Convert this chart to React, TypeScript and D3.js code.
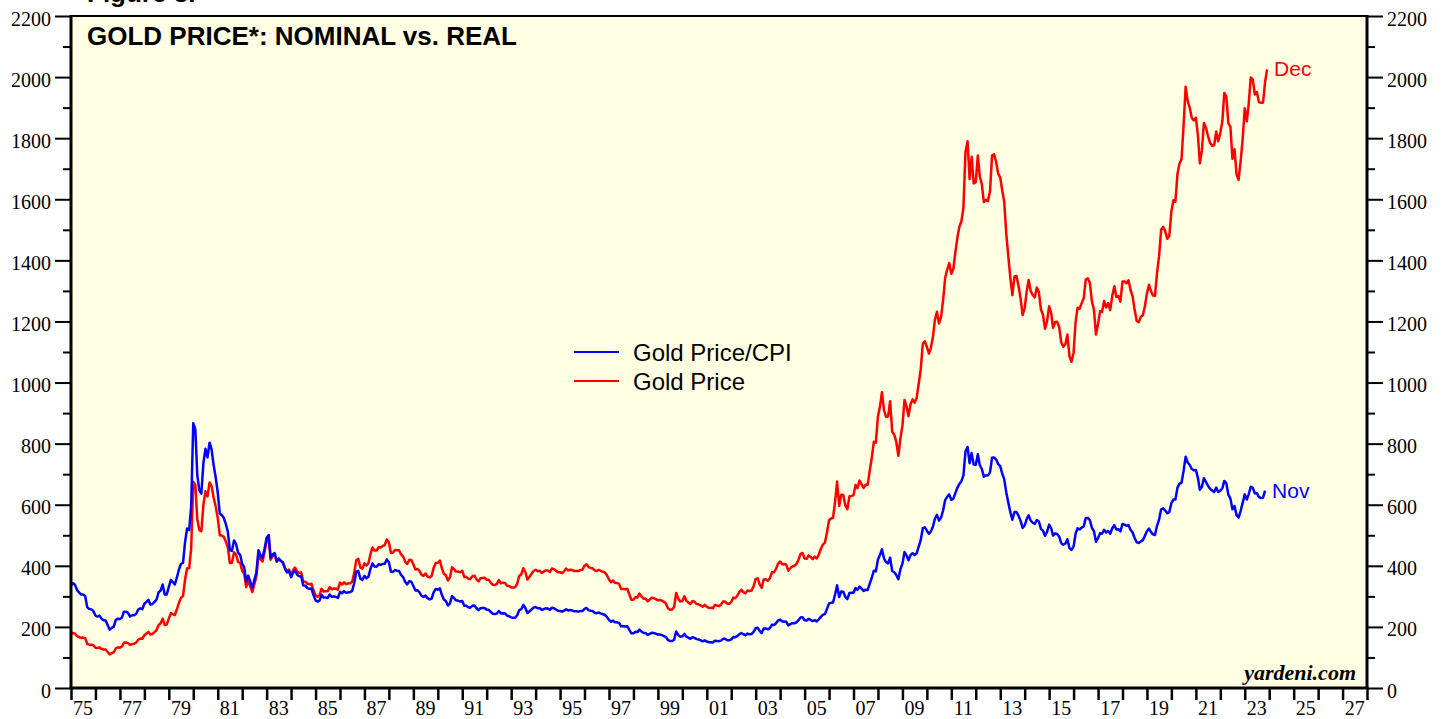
import React, { useEffect, useRef } from 'react';
import * as d3 from 'd3';

// monthly, Jan 1975 .. Dec 2023 (US$/oz)
const goldPrice: number[] = [
  175, 180, 178, 170, 167, 164, 165, 163, 144, 142, 142, 140,
  132, 131, 133, 128, 126, 126, 118, 110, 114, 117, 130, 133,
  132, 136, 148, 149, 147, 141, 144, 145, 149, 158, 162, 161,
  173, 178, 184, 175, 177, 183, 189, 206, 212, 227, 206, 208,
  227, 245, 242, 239, 257, 279, 295, 301, 355, 392, 392, 456,
  675, 665, 553, 517, 513, 600, 644, 627, 673, 661, 623, 595,
  557, 500, 499, 495, 480, 460, 409, 410, 444, 437, 413, 410,
  384, 374, 330, 350, 333, 314, 339, 365, 436, 422, 414, 445,
  481, 492, 420, 432, 438, 413, 423, 416, 412, 394, 382, 388,
  370, 386, 394, 381, 377, 378, 348, 348, 341, 340, 341, 320,
  303, 299, 304, 325, 316, 317, 317, 330, 323, 326, 325, 322,
  345, 339, 346, 340, 342, 343, 348, 376, 418, 423, 395, 391,
  408, 401, 408, 438, 460, 450, 450, 461, 460, 465, 468, 486,
  477, 442, 443, 452, 451, 451, 437, 431, 413, 406, 420, 419,
  404, 388, 390, 384, 371, 367, 375, 365, 362, 367, 394, 409,
  410, 417, 393, 374, 369, 352, 362, 395, 389, 381, 381, 379,
  384, 363, 364, 358, 357, 366, 368, 356, 349, 359, 360, 361,
  354, 354, 345, 338, 337, 341, 353, 343, 345, 344, 335, 334,
  329, 329, 330, 342, 367, 372, 392, 379, 355, 364, 374, 383,
  387, 382, 384, 377, 381, 385, 385, 380, 391, 389, 384, 379,
  379, 376, 382, 391, 385, 387, 386, 383, 383, 383, 386, 387,
  400, 405, 396, 393, 392, 385, 383, 387, 383, 381, 378, 369,
  355, 346, 352, 344, 344, 341, 324, 324, 323, 325, 306, 289,
  289, 297, 296, 309, 300, 292, 293, 284, 289, 296, 294, 291,
  287, 288, 286, 282, 277, 261, 256, 257, 265, 311, 293, 283,
  285, 300, 286, 280, 275, 285, 282, 275, 274, 270, 266, 272,
  266, 262, 263, 261, 272, 270, 268, 273, 283, 283, 276, 276,
  282, 296, 294, 302, 314, 321, 314, 310, 319, 317, 319, 333,
  357, 359, 340, 328, 355, 356, 351, 359, 379, 379, 390, 407,
  414, 405, 406, 404, 384, 392, 398, 400, 406, 420, 439, 442,
  424, 423, 434, 429, 422, 430, 424, 437, 456, 470, 476, 510,
  549, 555, 557, 610, 676, 596, 633, 632, 598, 585, 627, 629,
  631, 665, 654, 679, 667, 655, 665, 665, 712, 754, 806, 803,
  889, 922, 968, 909, 888, 889, 939, 839, 829, 806, 760, 816,
  858, 943, 924, 890, 928, 945, 934, 949, 996, 1043, 1127, 1135,
  1117, 1095, 1113, 1148, 1205, 1232, 1193, 1215, 1271, 1342, 1370, 1391,
  1356, 1372, 1424, 1473, 1510, 1528, 1572, 1756, 1790, 1666, 1739, 1652,
  1656, 1743, 1675, 1649, 1591, 1598, 1594, 1626, 1744, 1747, 1722, 1684,
  1671, 1627, 1593, 1487, 1414, 1343, 1286, 1347, 1349, 1316, 1275, 1221,
  1244, 1300, 1336, 1299, 1287, 1279, 1311, 1296, 1239, 1222, 1176, 1200,
  1250, 1227, 1179, 1198, 1199, 1181, 1131, 1117, 1125, 1157, 1086, 1068,
  1097, 1200, 1245, 1242, 1260, 1276, 1337, 1341, 1326, 1266, 1238, 1157,
  1192, 1234, 1231, 1267, 1246, 1260, 1237, 1283, 1315, 1280, 1283, 1265,
  1331, 1331, 1325, 1335, 1303, 1282, 1238, 1202, 1198, 1215, 1220, 1250,
  1291, 1320, 1300, 1285, 1284, 1359, 1413, 1500, 1510, 1495, 1471, 1480,
  1560, 1597, 1592, 1683, 1716, 1732, 1840, 1968, 1921, 1900, 1866, 1858,
  1867, 1808, 1718, 1760, 1850, 1834, 1807, 1785, 1775, 1777, 1822, 1790,
  1817, 1856, 1948, 1937, 1849, 1837, 1733, 1764, 1681, 1664, 1726, 1798,
  1898, 1855, 1912, 1999, 1992, 1943, 1951, 1918, 1916, 1916, 1985, 2025,
];

// monthly, Jan 1975 .. Nov 2023
const goldPriceCpi: number[] = [
  336, 343, 338, 321, 313, 306, 306, 301, 264, 259, 257, 252,
  237, 234, 237, 227, 222, 221, 206, 191, 197, 201, 223, 227,
  226, 231, 250, 250, 246, 234, 238, 238, 243, 257, 261, 258,
  276, 282, 289, 273, 275, 282, 289, 313, 319, 339, 306, 306,
  331, 354, 347, 339, 361, 388, 406, 410, 478, 522, 517, 595,
  867, 847, 698, 647, 636, 737, 783, 755, 803, 781, 729, 690,
  640, 571, 566, 557, 537, 511, 451, 449, 483, 472, 443, 436,
  407, 395, 348, 368, 349, 328, 353, 379, 451, 435, 426, 456,
  492, 501, 427, 437, 442, 415, 424, 416, 410, 391, 378, 383,
  363, 378, 384, 371, 366, 366, 336, 335, 327, 325, 325, 304,
  287, 283, 286, 305, 296, 296, 295, 306, 298, 300, 298, 295,
  315, 310, 317, 312, 313, 314, 318, 343, 380, 384, 358, 354,
  367, 359, 364, 390, 408, 398, 397, 405, 403, 406, 407, 421,
  412, 381, 380, 386, 384, 383, 370, 363, 347, 339, 350, 348,
  334, 319, 320, 314, 302, 298, 303, 294, 290, 293, 314, 324,
  322, 326, 306, 290, 285, 270, 277, 301, 294, 287, 286, 283,
  285, 269, 269, 264, 263, 269, 270, 261, 255, 261, 262, 262,
  256, 256, 249, 243, 242, 244, 252, 244, 245, 244, 237, 235,
  231, 230, 230, 238, 255, 258, 272, 262, 245, 251, 257, 263,
  265, 261, 262, 256, 258, 261, 260, 256, 263, 261, 257, 253,
  252, 250, 253, 258, 254, 255, 254, 251, 251, 250, 252, 252,
  259, 262, 255, 253, 252, 246, 245, 247, 244, 242, 239, 233,
  223, 217, 221, 215, 215, 213, 202, 202, 201, 202, 190, 179,
  179, 184, 183, 191, 185, 180, 180, 174, 177, 181, 180, 178,
  175, 175, 173, 170, 167, 157, 154, 154, 158, 185, 174, 168,
  169, 177, 168, 165, 161, 166, 164, 160, 159, 156, 153, 156,
  152, 150, 150, 149, 155, 154, 153, 155, 161, 161, 156, 156,
  159, 167, 166, 170, 176, 180, 176, 173, 178, 176, 177, 184,
  196, 197, 187, 180, 195, 195, 192, 196, 207, 206, 212, 221,
  224, 218, 218, 217, 205, 209, 212, 212, 215, 222, 231, 232,
  222, 221, 226, 223, 219, 222, 218, 225, 233, 240, 242, 259,
  277, 279, 280, 306, 336, 298, 316, 315, 298, 291, 311, 312,
  312, 327, 321, 332, 325, 318, 322, 321, 342, 361, 384, 382,
  421, 436, 454, 424, 412, 408, 427, 383, 379, 370, 356, 388,
  407, 445, 435, 418, 435, 441, 435, 441, 463, 484, 523, 526,
  515, 505, 512, 528, 554, 567, 548, 558, 582, 615, 626, 634,
  616, 620, 637, 655, 668, 677, 696, 775, 789, 736, 769, 732,
  730, 765, 730, 717, 692, 696, 696, 706, 754, 755, 748, 733,
  726, 701, 684, 640, 607, 575, 551, 576, 576, 564, 547, 524,
  532, 554, 565, 548, 541, 537, 550, 545, 521, 515, 498, 511,
  535, 523, 499, 506, 504, 495, 474, 469, 473, 487, 458, 452,
  463, 506, 523, 519, 525, 529, 556, 557, 549, 524, 513, 479,
  491, 507, 505, 518, 509, 514, 505, 523, 533, 519, 520, 513,
  537, 535, 531, 533, 518, 509, 491, 477, 475, 480, 484, 498,
  513, 522, 511, 503, 501, 531, 551, 585, 588, 581, 572, 576,
  605, 617, 617, 656, 669, 672, 710, 757, 738, 730, 717, 713,
  714, 687, 649, 659, 687, 675, 662, 652, 647, 642, 656, 642,
  646, 654, 678, 670, 633, 620, 585, 596, 566, 558, 580, 606,
  634, 617, 634, 659, 655, 637, 638, 625, 622, 623, 646,
];

const START_YEAR = 1975;
const END_YEAR = 2028;
const yTicks = d3.range(0, 2201, 100);
const yearTicks = d3.range(START_YEAR, END_YEAR + 1);
const yearLabels = d3.range(START_YEAR, END_YEAR, 2);

const series = [
  { name: 'Gold Price/CPI', values: goldPriceCpi, color: '#0000ff', last: 'Nov' },
  { name: 'Gold Price', values: goldPrice, color: '#ff0000', last: 'Dec' },
];

const SERIF = "'Liberation Serif', 'Times New Roman', serif";
const SANS = "'Liberation Sans', Arial, sans-serif";

function App() {
  const ref = useRef<SVGSVGElement>(null);

  useEffect(() => {
    const width = 1448;
    const height = 719;
    const left = 71;
    const right = 1367;
    const top = 16;
    const bottom = 688;

    const svg = d3.select(ref.current);
    svg.selectAll('*').remove();
    svg.attr('width', width).attr('height', height);

    const x = d3.scaleTime([new Date(START_YEAR, 0, 1), new Date(END_YEAR, 0, 1)], [left, right]);
    const y = d3.scaleLinear([0, 2200], [bottom, top]);
    const monthDate = (i: number) => new Date(START_YEAR, i, 1);

    svg.append('rect')
      .attr('x', left)
      .attr('y', top)
      .attr('width', right - left)
      .attr('height', bottom - top)
      .attr('fill', '#ffffe4');

    // figure caption, cut by the top edge
    svg.append('text')
      .attr('x', 87)
      .attr('y', 2)
      .attr('font-family', SANS)
      .attr('font-weight', 'bold')
      .attr('font-size', 26)
      .text('Figure 3.');

    svg.append('text')
      .attr('x', 87)
      .attr('y', 45)
      .attr('font-family', SANS)
      .attr('font-weight', 'bold')
      .attr('font-size', 26)
      .text('GOLD PRICE*: NOMINAL vs. REAL');

    // left + right y axes
    const yAxis = (g, axis, sign) => g
      .call(axis.tickValues(yTicks).tickSize(16).tickPadding(4)
        .tickFormat((d) => (d % 200 === 0 ? String(d) : '')))
      .call((s) => s.select('.domain').remove())
      .call((s) => s.selectAll('.tick line')
        .attr('x2', (d) => sign * (d % 200 === 0 ? 16 : 8))
        .attr('stroke-width', 2))
      .call((s) => s.selectAll('.tick text')
        .attr('dy', '0.45em')
        .attr('font-family', SERIF)
        .attr('font-size', 20)
        .attr('fill', '#000'));

    svg.append('g')
      .attr('transform', `translate(${left},0)`)
      .call((g) => yAxis(g, d3.axisLeft(y), -1));
    svg.append('g')
      .attr('transform', `translate(${right},0)`)
      .call((g) => yAxis(g, d3.axisRight(y), 1));

    // x axis: a tick each year, label mid odd years
    svg.append('g')
      .attr('transform', `translate(0,${bottom})`)
      .call(d3.axisBottom(x)
        .tickValues(yearTicks.map((yr) => new Date(yr, 0, 1)))
        .tickSize(12)
        .tickFormat(() => ''))
      .call((g) => g.select('.domain').remove())
      .call((g) => g.selectAll('.tick line').attr('stroke-width', 2.5));

    svg.append('g')
      .selectAll('text')
      .data(yearLabels)
      .join('text')
      .attr('x', (yr) => x(new Date(yr, 6, 1)))
      .attr('y', 715)
      .attr('text-anchor', 'middle')
      .attr('font-family', SERIF)
      .attr('font-size', 20)
      .text((yr) => String(yr % 100).padStart(2, '0'));

    // lines
    const line = d3.line<number>()
      .x((d, i) => x(monthDate(i)))
      .y((d) => y(d));

    [...series].reverse().forEach((s) => {
      svg.append('path')
        .attr('d', line(s.values))
        .attr('fill', 'none')
        .attr('stroke', s.color)
        .attr('stroke-width', 2.5)
        .attr('stroke-linejoin', 'round');
    });

    // last-point labels
    series.forEach((s) => {
      const i = s.values.length - 1;
      svg.append('text')
        .attr('x', x(monthDate(i)) + 7)
        .attr('y', y(s.values[i]) + 7)
        .attr('font-family', SANS)
        .attr('font-size', 21)
        .attr('fill', s.color)
        .text(s.last);
    });

    // legend
    const legend = svg.append('g').attr('transform', 'translate(574,352)');
    series.forEach((s, k) => {
      legend.append('line')
        .attr('x1', 0)
        .attr('x2', 45)
        .attr('y1', k * 29)
        .attr('y2', k * 29)
        .attr('stroke', s.color)
        .attr('stroke-width', 2);
      legend.append('text')
        .attr('x', 59)
        .attr('y', k * 29 + 9)
        .attr('font-family', SANS)
        .attr('font-size', 24)
        .text(s.name);
    });

    svg.append('text')
      .attr('x', 1356)
      .attr('y', 680)
      .attr('text-anchor', 'end')
      .attr('font-family', SERIF)
      .attr('font-weight', 'bold')
      .attr('font-style', 'italic')
      .attr('font-size', 22)
      .text('yardeni.com');

    // frame
    const frame = svg.append('g').attr('stroke', '#000');
    frame.append('line').attr('x1', left).attr('x2', right).attr('y1', top).attr('y2', top).attr('stroke-width', 2);
    frame.append('line').attr('x1', left - 1.5).attr('x2', right + 1.5).attr('y1', bottom).attr('y2', bottom).attr('stroke-width', 3);
    frame.append('line').attr('x1', left).attr('x2', left).attr('y1', top - 1).attr('y2', bottom).attr('stroke-width', 3);
    frame.append('line').attr('x1', right).attr('x2', right).attr('y1', top - 1).attr('y2', bottom).attr('stroke-width', 3);
  });

  return (
    <div style={{ position: 'absolute', left: 0, top: 0, background: '#fff' }}>
      <svg ref={ref} />
    </div>
  );
}

export default App;
